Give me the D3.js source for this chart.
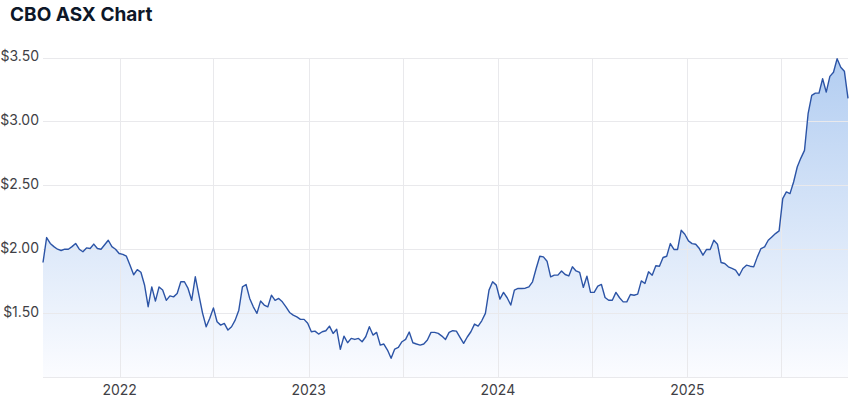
<!DOCTYPE html>
<meta charset="utf-8">
<style>
body { margin: 0; background: #fff; }
text { font-family: Inter, "Liberation Sans", Arial, sans-serif; }
.grid line { stroke: #e9e9ec; stroke-width: 1px; shape-rendering: crispEdges; }
</style>
<body>
<script src="https://d3js.org/d3.v7.min.js"></script>
<script>

// weekly closes (Fridays)
var startDate = new Date(2021, 7, 6),
    endDate = new Date(2025, 10, 8);

var prices = [
  1.896, 2.091, 2.045, 2.02, 2.0, 1.99, 2.0, 2.0, 2.02, 2.045,
  2.0, 1.98, 2.01, 2.005, 2.04, 2.005, 2.0, 2.035, 2.07, 2.02,
  2.0, 1.966, 1.96, 1.945, 1.875, 1.80, 1.84, 1.82, 1.72, 1.55,
  1.705, 1.594, 1.705, 1.68, 1.60, 1.635, 1.627, 1.654, 1.745, 1.745,
  1.693, 1.60, 1.784, 1.64, 1.50, 1.393, 1.459, 1.541, 1.432, 1.406,
  1.419, 1.367, 1.393, 1.445, 1.523, 1.705, 1.724, 1.615, 1.549, 1.498,
  1.594, 1.563, 1.549, 1.64, 1.60, 1.615, 1.588, 1.549, 1.505, 1.484,
  1.471, 1.451, 1.451, 1.42, 1.354, 1.359, 1.336, 1.354, 1.362, 1.398,
  1.341, 1.373, 1.216, 1.32, 1.268, 1.302, 1.294, 1.302, 1.276, 1.315,
  1.393, 1.328, 1.349, 1.25, 1.258, 1.211, 1.146, 1.219, 1.232, 1.276,
  1.294, 1.352, 1.268, 1.258, 1.25, 1.258, 1.289, 1.349, 1.349, 1.341,
  1.32, 1.294, 1.349, 1.362, 1.359, 1.31, 1.263, 1.313, 1.354, 1.414,
  1.398, 1.44, 1.498, 1.68, 1.745, 1.719, 1.61, 1.662, 1.62, 1.563,
  1.68, 1.693, 1.693, 1.695, 1.705, 1.745, 1.849, 1.945, 1.94, 1.906,
  1.784, 1.797, 1.797, 1.83, 1.802, 1.791, 1.862, 1.83, 1.818, 1.701,
  1.789, 1.662, 1.662, 1.711, 1.724, 1.622, 1.60, 1.60, 1.662, 1.62,
  1.588, 1.588, 1.646, 1.64, 1.648, 1.752, 1.732, 1.823, 1.797, 1.87,
  1.867, 1.935, 1.945, 2.044, 1.998, 1.998, 2.148, 2.117, 2.065, 2.044,
  2.039, 2.005, 1.953, 1.998, 1.998, 2.07, 2.039, 1.896, 1.888, 1.862,
  1.85, 1.836, 1.794, 1.849, 1.875, 1.867, 1.862, 1.94, 2.005, 2.018,
  2.07, 2.096, 2.122, 2.143, 2.396, 2.448, 2.435, 2.526, 2.643, 2.713,
  2.773, 3.06, 3.203, 3.221, 3.221, 3.334, 3.229, 3.352, 3.385, 3.49,
  3.424, 3.393, 3.18
];

var yTicks = [1.5, 2.0, 2.5, 3.0, 3.5];
var yDomain = [1.0, 3.5];
var title = "CBO ASX Chart";

var width = 860,
    height = 398;

var dates = d3.timeFriday.range(startDate, endDate);
var data = prices.map(function(p, i) { return { date: dates[i], price: p }; });

var x = d3.scaleTime()
    .domain(d3.extent(data, d => d.date))
    .range([43, 848]);

var y = d3.scaleLinear()
    .domain(yDomain)
    .range([377, 57.5]);

var svg = d3.select("body").append("svg")
    .attr("width", width)
    .attr("height", height);

svg.append("text")
    .attr("x", 10)
    .attr("y", 21)
    .attr("font-size", 19)
    .attr("font-weight", 700)
    .attr("fill", "#0d1728")
    .text(title);

var grad = svg.append("defs").append("linearGradient")
    .attr("id", "fill")
    .attr("gradientUnits", "userSpaceOnUse")
    .attr("x1", 0).attr("x2", 0)
    .attr("y1", y(yDomain[1])).attr("y2", y(yDomain[0]));
grad.append("stop").attr("offset", "0%").attr("stop-color", "#b2cdf1");
grad.append("stop").attr("offset", "100%").attr("stop-color", "#fbfcff");

// area under the line
svg.append("path")
    .datum(data)
    .attr("fill", "url(#fill)")
    .attr("d", d3.area()
        .x(d => x(d.date))
        .y0(y(yDomain[0]))
        .y1(d => y(d.price)));

// grid
var grid = svg.append("g").attr("class", "grid");

grid.selectAll(".h")
    .data([yDomain[0]].concat(yTicks))
  .enter().append("line")
    .attr("x1", 43).attr("x2", 848)
    .attr("y1", d => Math.round(y(d)) + 0.5)
    .attr("y2", d => Math.round(y(d)) + 0.5);

var xTicks = x.ticks(d3.timeMonth.every(6));

grid.selectAll(".v")
    .data(xTicks)
  .enter().append("line")
    .attr("y1", y(yDomain[1])).attr("y2", y(yDomain[0]))
    .attr("x1", d => Math.round(x(d)) + 0.5)
    .attr("x2", d => Math.round(x(d)) + 0.5);

// line
svg.append("path")
    .datum(data)
    .attr("fill", "none")
    .attr("stroke", "#2c54a6")
    .attr("stroke-width", 1.4)
    .attr("stroke-linejoin", "round")
    .attr("d", d3.line()
        .x(d => x(d.date))
        .y(d => y(d.price)));

// y labels
svg.append("g").selectAll("text")
    .data(yTicks)
  .enter().append("text")
    .attr("x", 39)
    .attr("y", d => y(d) - 1)
    .attr("dy", "0.35em")
    .attr("text-anchor", "end")
    .attr("font-size", 14)
    .attr("fill", "#3f3f46")
    .text(d => "$" + d.toFixed(2));

// x labels, years only
svg.append("g").selectAll("text")
    .data(xTicks.filter(d => d.getMonth() === 0))
  .enter().append("text")
    .attr("x", d => x(d))
    .attr("y", 395)
    .attr("text-anchor", "middle")
    .attr("font-size", 14)
    .attr("fill", "#3f3f46")
    .text(d3.timeFormat("%Y"));

</script>
</body>
</html>
